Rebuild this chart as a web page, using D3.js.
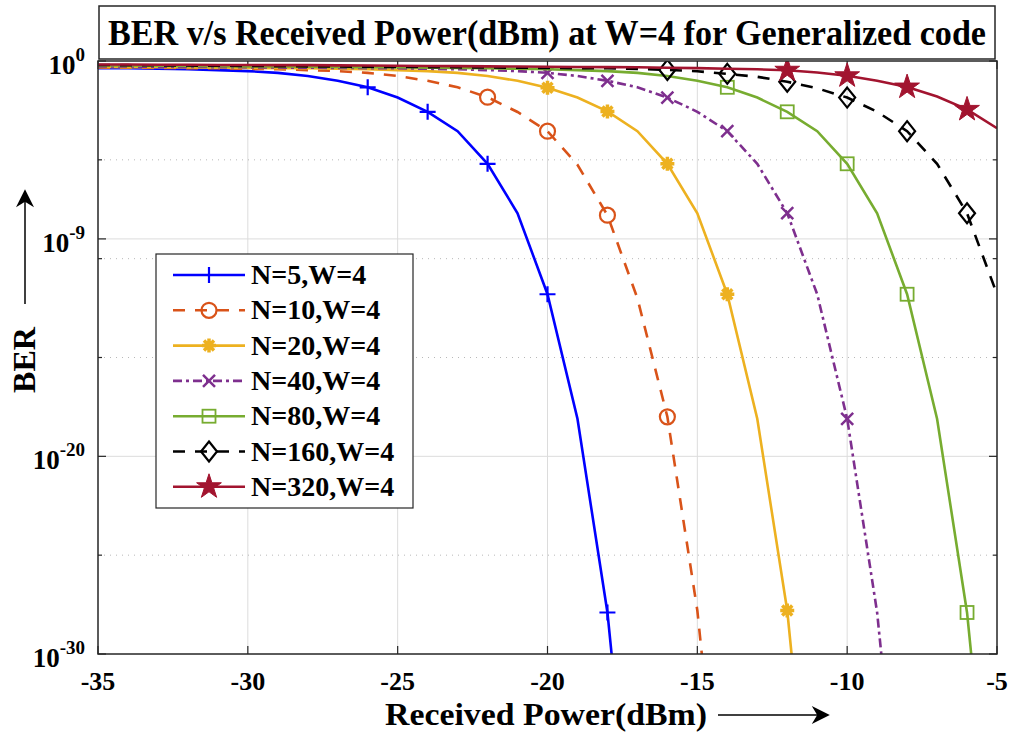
<!DOCTYPE html>
<html>
<head>
<meta charset="utf-8">
<script src="https://cdn.jsdelivr.net/npm/d3@7"></script>
<style>
  body { margin: 0; background: #fff; }
  text { font-family: "Liberation Serif", "Times New Roman", serif; font-weight: bold; fill: #000; }
</style>
</head>
<body>
<svg id="chart" width="1011" height="733"></svg>
<script>
// received power grid (dBm), one point per dBm
var powerDbm = [-35,-34,-33,-32,-31,-30,-29,-28,-27,-26,-25,-24,-23,-22,-21,-20,
                -19,-18,-17,-16,-15,-14,-13,-12,-11,-10,-9,-8,-7,-6,-5]

var seriesLabels = ["N=5,W=4", "N=10,W=4", "N=20,W=4", "N=40,W=4", "N=80,W=4", "N=160,W=4", "N=320,W=4"]

// log10(BER), starting at -35 dBm
var berN5   = [-0.36,-0.37,-0.39,-0.42,-0.46,-0.51,-0.6,-0.76,-1.0,-1.33,-1.85,-2.57,-3.55,-5.2,-7.7,-11.8,-18.1,-27.9,-43]
var berN10  = [-0.33,-0.34,-0.35,-0.36,-0.37,-0.39,-0.42,-0.46,-0.51,-0.6,-0.76,-1.0,-1.33,-1.83,-2.58,-3.55,-5.25,-7.8,-12.0,-18.0,-27.8,-42.5]
var berN20  = [-0.3,-0.31,-0.32,-0.33,-0.34,-0.35,-0.36,-0.37,-0.39,-0.42,-0.46,-0.51,-0.6,-0.76,-1.0,-1.35,-1.85,-2.55,-3.55,-5.2,-7.7,-11.8,-18.1,-27.8,-43]
var berN40  = [-0.27,-0.28,-0.29,-0.3,-0.31,-0.32,-0.33,-0.34,-0.35,-0.36,-0.37,-0.39,-0.42,-0.46,-0.51,-0.6,-0.76,-1.0,-1.33,-1.85,-2.57,-3.55,-5.2,-7.7,-11.8,-18.1,-27.9,-43]
var berN80  = [-0.22,-0.23,-0.24,-0.25,-0.26,-0.27,-0.28,-0.29,-0.3,-0.31,-0.32,-0.34,-0.35,-0.37,-0.39,-0.42,-0.46,-0.51,-0.6,-0.76,-1.0,-1.33,-1.85,-2.57,-3.55,-5.2,-7.7,-11.8,-18.1,-27.9,-43]
var berN160 = [-0.2,-0.21,-0.22,-0.23,-0.24,-0.25,-0.26,-0.27,-0.28,-0.29,-0.3,-0.31,-0.32,-0.33,-0.34,-0.35,-0.36,-0.37,-0.4,-0.45,-0.52,-0.65,-0.8,-1.05,-1.38,-1.85,-2.57,-3.55,-5.2,-7.7,-11.8]
var berN320 = [-0.18,-0.18,-0.19,-0.19,-0.2,-0.2,-0.21,-0.21,-0.22,-0.23,-0.24,-0.25,-0.26,-0.27,-0.28,-0.29,-0.3,-0.31,-0.32,-0.34,-0.36,-0.39,-0.42,-0.47,-0.58,-0.75,-1.0,-1.32,-1.8,-2.45,-3.4]

// where the markers sit (dBm)
var markN5   = [-26,-24,-22,-20,-18]
var markN10  = [-22,-20,-18,-16]
var markN20  = [-20,-18,-16,-14,-12]
var markN40  = [-20,-18,-16,-14,-12,-10]
var markN80  = [-14,-12,-10,-8,-6]
var markN160 = [-16,-14,-12,-10,-8,-6]
var markN320 = [-12,-10,-8,-6]

var xTicks = [-35,-30,-25,-20,-15,-10,-5]
var yMajor = [0,-9,-20,-30]
var yMinor = [-5,-10,-15,-25]

var colors  = ["#0000FF", "#D95319", "#EDB120", "#7E2F8E", "#77AC30", "#000000", "#A2142F"]
var dashes  = [null, "12,10", null, "9,4,3,4", null, "12,10", null]
var markers = ["plus", "circle", "asterisk", "cross", "square", "diamond", "star"]

var allBer = [berN5, berN10, berN20, berN40, berN80, berN160, berN320]
var allMarks = [markN5, markN10, markN20, markN40, markN80, markN160, markN320]

var series = allBer.map(function (vals, i) {
    return {
        label: seriesLabels[i],
        points: vals.map(function (v, j) { return { p: powerDbm[j], ber: Math.pow(10, v) } }),
        marks: allMarks[i].map(function (p) { return { p: p, ber: Math.pow(10, vals[powerDbm.indexOf(p)]) } }),
        color: colors[i], dash: dashes[i], marker: markers[i]
    }
})

// chart dimensions
var plotLeft = 98, plotRight = 997, plotTop = 61, plotBottom = 654

var svg = d3.select('#chart')

var xScale = d3.scaleLinear().domain([-35, -5]).range([plotLeft, plotRight])
var yScale = d3.scaleLog().domain([1e-30, 1]).range([plotBottom, plotTop])
var yExp = function (e) { return yScale(Math.pow(10, e)) }

// grid
var grid = svg.append('g')
grid.selectAll('.vgrid').data(xTicks.slice(1, -1)).enter().append('line')
    .attr('x1', d => xScale(d)).attr('x2', d => xScale(d))
    .attr('y1', plotTop).attr('y2', plotBottom)
    .attr('stroke', '#dcdcdc').attr('stroke-width', 1)
grid.selectAll('.hgrid').data(yMajor.slice(1, -1)).enter().append('line')
    .attr('x1', plotLeft).attr('x2', plotRight)
    .attr('y1', d => yExp(d)).attr('y2', d => yExp(d))
    .attr('stroke', '#dcdcdc').attr('stroke-width', 1)
grid.selectAll('.mgrid').data(yMinor).enter().append('line')
    .attr('x1', plotLeft).attr('x2', plotRight)
    .attr('y1', d => yExp(d)).attr('y2', d => yExp(d))
    .attr('stroke', '#b8b8b8').attr('stroke-width', 1)
    .attr('stroke-dasharray', '1,5')

// ticks (inward, all four sides)
var ticks = svg.append('g').attr('stroke', '#262626').attr('stroke-width', 1.2)
xTicks.forEach(function (t) {
    ticks.append('line').attr('x1', xScale(t)).attr('x2', xScale(t)).attr('y1', plotBottom).attr('y2', plotBottom - 8)
    ticks.append('line').attr('x1', xScale(t)).attr('x2', xScale(t)).attr('y1', plotTop).attr('y2', plotTop + 8)
})
yMajor.forEach(function (t) {
    ticks.append('line').attr('x1', plotLeft).attr('x2', plotLeft + 8).attr('y1', yExp(t)).attr('y2', yExp(t))
    ticks.append('line').attr('x1', plotRight).attr('x2', plotRight - 8).attr('y1', yExp(t)).attr('y2', yExp(t))
})
yMinor.forEach(function (t) {
    ticks.append('line').attr('x1', plotLeft).attr('x2', plotLeft + 4).attr('y1', yExp(t)).attr('y2', yExp(t))
    ticks.append('line').attr('x1', plotRight).attr('x2', plotRight - 4).attr('y1', yExp(t)).attr('y2', yExp(t))
})

// tick labels
svg.selectAll('.xlab').data(xTicks).enter().append('text')
    .attr('x', d => xScale(d)).attr('y', 690)
    .attr('text-anchor', 'middle').style('font-size', '26px')
    .text(d => d)

var ylab = svg.selectAll('.ylab').data(yMajor).enter().append('text')
    .attr('x', 85).attr('y', d => yExp(d) + 13)
    .attr('text-anchor', 'end').style('font-size', '27px')
ylab.append('tspan').text('10')
ylab.append('tspan').attr('dy', -13).style('font-size', '19px').text(d => d)

// curves
svg.append('clipPath').attr('id', 'plotClip')
    .append('rect').attr('x', plotLeft).attr('y', plotTop).attr('width', plotRight - plotLeft).attr('height', plotBottom - plotTop)

var plot = svg.append('g').attr('clip-path', 'url(#plotClip)')
var line = d3.line().x(d => xScale(d.p)).y(d => yScale(d.ber))

function drawMarker (g, type, color) {
    var sw = 2.2
    if (type === 'plus') {
        g.append('path').attr('d', 'M-8,0H8M0,-8V8').attr('stroke', color).attr('stroke-width', sw)
    } else if (type === 'circle') {
        g.append('circle').attr('r', 7.5).attr('fill', 'none').attr('stroke', color).attr('stroke-width', sw)
    } else if (type === 'asterisk') {
        g.append('path').attr('d', 'M-7,0H7M0,-7V7M-5,-5L5,5M-5,5L5,-5').attr('stroke', color).attr('stroke-width', 3.5)
    } else if (type === 'cross') {
        g.append('path').attr('d', 'M-6,-6L6,6M-6,6L6,-6').attr('stroke', color).attr('stroke-width', 2.5)
    } else if (type === 'square') {
        g.append('rect').attr('x', -6.5).attr('y', -6.5).attr('width', 13).attr('height', 13)
            .attr('fill', 'none').attr('stroke', color).attr('stroke-width', 1.8)
    } else if (type === 'diamond') {
        g.append('path').attr('d', 'M0,-10L8,0L0,10L-8,0Z').attr('fill', 'none').attr('stroke', color).attr('stroke-width', sw)
    } else if (type === 'star') {
        g.append('path').attr('d', d3.symbol().type(d3.symbolStar).size(190)())
            .attr('fill', color).attr('stroke', color).attr('stroke-width', 1)
    }
}

series.forEach(function (s) {
    plot.append('path')
        .datum(s.points)
        .attr('d', line)
        .attr('fill', 'none')
        .attr('stroke', s.color)
        .attr('stroke-width', 2.6)
        .attr('stroke-dasharray', s.dash)
    s.marks.forEach(function (m) {
        var g = plot.append('g').attr('transform', 'translate(' + xScale(m.p) + ',' + yScale(m.ber) + ')')
        drawMarker(g, s.marker, s.color)
    })
})

// frame
svg.append('rect').attr('x', plotLeft).attr('y', plotTop).attr('width', plotRight - plotLeft).attr('height', plotBottom - plotTop)
    .attr('fill', 'none').attr('stroke', '#262626').attr('stroke-width', 1.5)

// title box
svg.append('rect').attr('x', 99).attr('y', 6).attr('width', 896).attr('height', 53)
    .attr('fill', '#fff').attr('stroke', '#262626').attr('stroke-width', 1.5)
svg.append('text')
    .attr('x', 547).attr('y', 45)
    .attr('text-anchor', 'middle')
    .attr('textLength', 878).attr('lengthAdjust', 'spacingAndGlyphs')
    .style('font-size', '35px')
    .text('BER v/s Received Power(dBm) at W=4 for Generalized code')

// axis labels with arrows
svg.append('defs').append('marker')
    .attr('id', 'arrow').attr('viewBox', '0 0 10 10')
    .attr('refX', 9).attr('refY', 5)
    .attr('markerWidth', 22).attr('markerHeight', 18)
    .attr('markerUnits', 'userSpaceOnUse')
    .attr('orient', 'auto')
    .append('path').attr('d', 'M0,0L10,5L0,10L3,5Z').attr('fill', '#000')

svg.append('text')
    .attr('x', 385).attr('y', 725)
    .attr('textLength', 322).attr('lengthAdjust', 'spacingAndGlyphs')
    .style('font-size', '31px')
    .text('Received Power(dBm)')
svg.append('line')
    .attr('x1', 718).attr('y1', 715).attr('x2', 828).attr('y2', 715)
    .attr('stroke', '#000').attr('stroke-width', 1.5)
    .attr('marker-end', 'url(#arrow)')

svg.append('text')
    .attr('transform', 'translate(35,360)rotate(-90)')
    .attr('text-anchor', 'middle')
    .style('font-size', '32px')
    .text('BER')
svg.append('line')
    .attr('x1', 25).attr('y1', 304).attr('x2', 25).attr('y2', 191)
    .attr('stroke', '#000').attr('stroke-width', 1.5)
    .attr('marker-end', 'url(#arrow)')

// legend
var legend = svg.append('g')
legend.append('rect').attr('x', 156).attr('y', 254).attr('width', 257).attr('height', 254)
    .attr('fill', '#fff').attr('stroke', '#262626').attr('stroke-width', 1.2)

series.forEach(function (s, i) {
    var ly = 275 + i * 35.3
    legend.append('line')
        .attr('x1', 173).attr('x2', 245).attr('y1', ly).attr('y2', ly)
        .attr('stroke', s.color).attr('stroke-width', 2.6)
        .attr('stroke-dasharray', s.dash)
    var g = legend.append('g').attr('transform', 'translate(209,' + ly + ')')
    drawMarker(g, s.marker, s.color)
    legend.append('text')
        .attr('x', 251).attr('y', ly + 9)
        .style('font-size', '28px')
        .text(s.label)
})
</script>
</body>
</html>
